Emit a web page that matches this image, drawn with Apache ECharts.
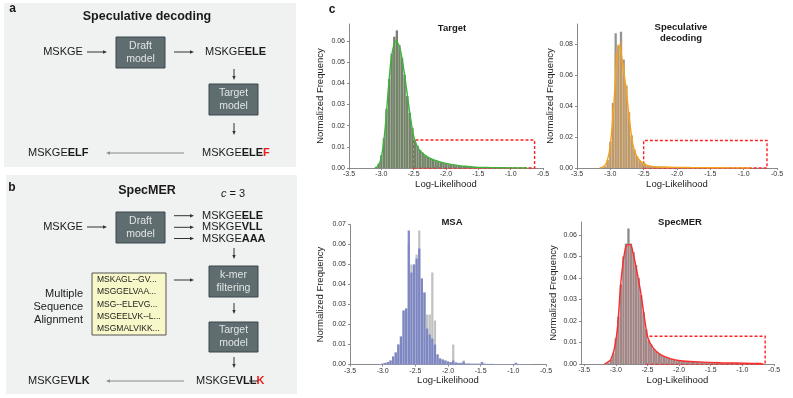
<!DOCTYPE html>
<html><head><meta charset="utf-8">
<script src="https://cdn.jsdelivr.net/npm/echarts@6/dist/echarts.min.js"></script>
<style>html,body{margin:0;padding:0;background:#fff}#c{width:793px;height:398px}</style>
</head><body><div id="c"></div>
<script>
// ---------- DATA ----------
const bins = [-3.12,-3.08,-3.04,-3.00,-2.96,-2.92,-2.88,-2.84,-2.80,-2.76,
-2.72,-2.68,-2.64,-2.60,-2.56,-2.52,-2.48,-2.44,-2.40,-2.36,
-2.32,-2.28,-2.24,-2.20,-2.16,-2.12,-2.08,-2.04,-2.00,-1.96,
-1.92,-1.88,-1.84,-1.80,-1.76,-1.72,-1.68,-1.64,-1.60,-1.56,
-1.52,-1.48,-1.44,-1.40,-1.36,-1.32,-1.28,-1.24,-1.20,-1.16,
-1.12,-1.08,-1.04,-1.00,-0.96,-0.92,-0.88,-0.84,-0.80,-0.76,
-0.72,-0.68,-0.64];

const targetGray = [0,0.0005,0.002,0.006,0.014,0.028,0.042,0.054,0.062,0.065,
0.058,0.052,0.044,0.034,0.026,0.019,0.013,0.0105,0.0085,0.0072,
0.006,0.0052,0.0045,0.004,0.0035,0.003,0.0027,0.0024,0.0021,0.0018,
0.0016,0.0014,0.0012,0.0011,0.001,0.0009,0.0008,0.0007,0.0006,0.0005,
0.0005,0.0004,0.0004,0.0003,0.0003,0.0003,0.0002,0.0002,0.0002,0.0002,
0.0002,0.0001,0.0001,0.0001,0.0001,0.0001,0.0001,0.0001,0.0001,0.0001,
0.0001,0,0];
const targetColor = [0,0.0005,0.002,0.006,0.014,0.027,0.041,0.053,0.060,0.062,
0.057,0.052,0.044,0.034,0.026,0.019,0.013,0.0105,0.0085,0.0072,
0.006,0.0052,0.0045,0.004,0.0035,0.003,0.0027,0.0024,0.0021,0.0018,
0.0016,0.0014,0.0012,0.0011,0.001,0.0009,0.0008,0.0007,0.0006,0.0005,
0.0005,0.0004,0.0004,0.0003,0.0003,0.0003,0.0002,0.0002,0.0002,0.0002,
0.0002,0.0001,0.0001,0.0001,0.0001,0.0001,0.0001,0.0001,0.0001,0.0001,
0.0001,0,0];
const targetKde = [[-3.10,0],[-3.05,0.001],[-3.00,0.005],[-2.95,0.016],[-2.90,0.034],[-2.85,0.051],[-2.80,0.059],[-2.77,0.060],[-2.73,0.058],[-2.70,0.055],[-2.65,0.046],[-2.60,0.035],[-2.55,0.024],[-2.50,0.015],[-2.45,0.0105],[-2.40,0.008],[-2.30,0.0055],[-2.20,0.004],[-2.10,0.003],[-2.00,0.0022],[-1.90,0.0016],[-1.80,0.0011],[-1.70,0.0008],[-1.60,0.0005],[-1.50,0.0003],[-1.30,0.0002],[-1.10,0.0001],[-0.90,0.00005],[-0.75,0]];

const specGray = [0.0003,0.001,0.005,0.017,0.042,0.087,0.079,0.088,0.070,0.053,
0.036,0.021,0.012,0.0075,0.005,0.0038,0.0028,0.0018,0.0013,0.001,
0.0009,0.0008,0.0007,0.0006,0.0006,0.0005,0.0005,0.0004,0.0004,0.0004,
0.0004,0.0003,0.0003,0.0003,0.0003,0.0003,0.0003,0.0003,0.0003,0.0003,
0.0003,0.0003,0.0002,0.0002,0.0002,0.0002,0.0002,0.0002,0.0002,0.0002,
0.0002,0.0002,0.0001,0.0001,0.0001,0.0001,0.0001,0.0001,0.0001,0.0001,
0.0001,0,0];
const specColor = [0.0003,0.001,0.005,0.016,0.040,0.074,0.080,0.082,0.068,0.054,
0.036,0.021,0.012,0.0075,0.005,0.0038,0.0028,0.0018,0.0013,0.001,
0.0009,0.0008,0.0007,0.0006,0.0006,0.0005,0.0005,0.0004,0.0004,0.0004,
0.0004,0.0003,0.0003,0.0003,0.0003,0.0003,0.0003,0.0003,0.0003,0.0003,
0.0003,0.0003,0.0002,0.0002,0.0002,0.0002,0.0002,0.0002,0.0002,0.0002,
0.0002,0.0002,0.0001,0.0001,0.0001,0.0001,0.0001,0.0001,0.0001,0.0001,
0.0001,0,0];
const specKde = [[-3.16,0],[-3.10,0.001],[-3.05,0.004],[-3.00,0.015],[-2.95,0.040],[-2.91,0.066],[-2.875,0.079],[-2.85,0.077],[-2.81,0.066],[-2.76,0.050],[-2.71,0.030],[-2.66,0.015],[-2.61,0.008],[-2.55,0.0045],[-2.47,0.002],[-2.35,0.0009],[-2.20,0.0006],[-2.00,0.0004],[-1.80,0.0003],[-1.50,0.0002],[-1.20,0.0001],[-0.90,0]];

const msaGray = [0,0,0.0002,0.0005,0.0008,0.0012,0.002,0.004,0.006,0.010,
0.014,0.027,0.028,0.060,0.050,0.050,0.055,0.067,0.043,0.036,
0.025,0.025,0.046,0.022,0.005,0.003,0.0025,0.002,0.0015,0.0012,
0.010,0.001,0.0008,0.0008,0.002,0.0005,0.0005,0.0004,0.0004,0.0004,
0.0004,0.0012,0.0004,0.0003,0.0003,0.0003,0.0002,0.0002,0.0002,0.0002,
0.0002,0.0002,0.0002,0.0002,0.0008,0.0002,0.0002,0.0001,0.0001,0.0001,
0.0001,0,0];
const msaColor = [0,0,0.0002,0.0005,0.0008,0.0012,0.002,0.004,0.006,0.010,
0.014,0.027,0.028,0.067,0.046,0.050,0.053,0.058,0.043,0.036,
0.018,0.015,0.013,0.010,0.005,0.003,0.0025,0.002,0.0015,0.0012,
0.002,0.001,0.0008,0.0008,0.0015,0.0005,0.0005,0.0004,0.0004,0.0004,
0.0004,0.0012,0.0004,0.0003,0.0003,0.0003,0.0002,0.0002,0.0002,0.0002,
0.0002,0.0002,0.0002,0.0002,0.0008,0.0002,0.0002,0.0001,0.0001,0.0001,
0.0001,0,0];

const specmerGray = [0.0005,0.002,0.005,0.012,0.022,0.037,0.050,0.056,0.063,0.056,
0.052,0.046,0.040,0.032,0.024,0.016,0.011,0.009,0.007,0.0058,
0.005,0.0042,0.0035,0.003,0.0027,0.0024,0.002,0.0018,0.0016,0.0015,
0.0014,0.0013,0.0012,0.0011,0.001,0.0012,0.0011,0.001,0.0009,0.0008,
0.0008,0.0007,0.0007,0.0006,0.0006,0.0005,0.0005,0.0005,0.0004,0.0004,
0.0004,0.0004,0.0003,0.0003,0.0003,0.0003,0.0002,0.0002,0.0001,0.0001,
0.0001,0,0];
const specmerColor = [0.0005,0.002,0.005,0.012,0.022,0.037,0.050,0.055,0.056,0.055,
0.052,0.046,0.040,0.032,0.024,0.016,0.011,0.009,0.007,0.0058,
0.005,0.0042,0.0035,0.003,0.0027,0.0024,0.002,0.0018,0.0016,0.0015,
0.0014,0.0013,0.0012,0.0011,0.001,0.0012,0.0011,0.001,0.0009,0.0008,
0.0008,0.0007,0.0007,0.0006,0.0006,0.0005,0.0005,0.0005,0.0004,0.0004,
0.0004,0.0004,0.0003,0.0003,0.0003,0.0003,0.0002,0.0002,0.0001,0.0001,
0.0001,0,0];
const specmerKde = [[-3.18,0],[-3.12,0.001],[-3.08,0.002],[-3.02,0.0075],[-2.97,0.018],[-2.92,0.038],[-2.86,0.052],[-2.81,0.0555],[-2.77,0.0555],[-2.73,0.052],[-2.68,0.045],[-2.61,0.034],[-2.54,0.020],[-2.49,0.012],[-2.41,0.0075],[-2.30,0.0045],[-2.14,0.0025],[-1.98,0.0015],[-1.71,0.001],[-1.34,0.0006],[-0.86,0.0003],[-0.70,0.0002]];

const xTicks = [-3.5,-3.0,-2.5,-2.0,-1.5,-1.0,-0.5];
const yTicksA = [0,0.01,0.02,0.03,0.04,0.05,0.06];
const yTicksB = [0,0.02,0.04,0.06,0.08];
const yTicksC = [0,0.01,0.02,0.03,0.04,0.05,0.06,0.07];
// red dashed boxes: [x0, x1, top]
const boxes = [[-2.5,-0.63,0.0132],[-2.5,-0.65,0.0178],null,[-2.53,-0.64,0.0129]];

// ---------- LAYOUT ----------
const FONT = 'Liberation Sans, Arial, Helvetica, sans-serif';
const grids = [
  {left:349, top:24, width:194, height:144},
  {left:577, top:24, width:200, height:144},
  {left:350, top:224.5, width:196, height:140},
  {left:581, top:222, width:193, height:142}
];
const xMins = [-3.5,-3.5,-3.5,-3.55];
const yMaxes = [0.068,0.093,0.07,0.066];
const yTickSets = [yTicksA,yTicksB,yTicksC,yTicksA];
const yNameGaps = [24,19,25,23];
const grayCols = ['#7c7c7c','#939393','#c2c2c2','#8a8a8a'];
const overCols = ['rgba(100,145,70,0.35)','rgba(235,160,60,0.5)','rgba(118,130,196,0.92)','rgba(235,120,120,0.25)'];
const lineCols = ['#3db53d','#f5a31f',null,'#ff2a2a'];
const grayData = [targetGray,specGray,msaGray,specmerGray];
const colData = [targetColor,specColor,msaColor,specmerColor];
const kdes = [targetKde,specKde,null,specmerKde];

const xAxes = [], yAxes = [], series = [];
for (let i=0;i<4;i++){
  xAxes.push({type:'value', gridIndex:i, min:xMins[i], max:-0.5,
    name:'Log-Likelihood', nameLocation:'middle', nameGap:10,
    nameTextStyle:{fontFamily:FONT,fontSize:9.5,color:'#222'},
    axisLine:{lineStyle:{color:'#8a8a8a',width:1}},
    axisTick:{length:2,lineStyle:{color:'#8a8a8a'},customValues:xTicks},
    axisLabel:{fontFamily:FONT,fontSize:7,color:'#333',margin:3,customValues:xTicks,formatter:v=>v.toFixed(1)},
    splitLine:{show:false}});
  yAxes.push({type:'value', gridIndex:i, min:0, max:yMaxes[i],
    name:'Normalized Frequency', nameLocation:'middle', nameGap:yNameGaps[i],
    nameTextStyle:{fontFamily:FONT,fontSize:9.5,color:'#222'},
    axisLine:{show:true,lineStyle:{color:'#8a8a8a',width:1}},
    axisTick:{show:true,length:2,lineStyle:{color:'#8a8a8a'},customValues:yTickSets[i]},
    axisLabel:{fontFamily:FONT,fontSize:7,color:'#333',margin:4,customValues:yTickSets[i],formatter:v=>v.toFixed(2)},
    splitLine:{show:false}});
  series.push({type:'bar', xAxisIndex:i, yAxisIndex:i, barWidth:2.3, barGap:'-100%', silent:true,
    itemStyle:{color:grayCols[i]}, data:bins.map((b,j)=>[b,grayData[i][j]])});
  series.push({type:'bar', xAxisIndex:i, yAxisIndex:i, barWidth:2.3, barGap:'-100%', silent:true,
    itemStyle:{color:overCols[i]}, data:bins.map((b,j)=>[b,colData[i][j]])});
  if (kdes[i]) {
    const ln = {type:'line', xAxisIndex:i, yAxisIndex:i, smooth:0.35, symbol:'none', silent:true,
      lineStyle:{color:lineCols[i],width:1.4}, data:kdes[i], z:5};
    if (boxes[i]) ln.markArea = {silent:true,
      itemStyle:{color:'rgba(0,0,0,0)',borderColor:'#ff2020',borderType:[3,2],borderWidth:1.4},
      data:[[{coord:[boxes[i][0],0]},{coord:[boxes[i][1],boxes[i][2]]}]]};
    series.push(ln);
  }
}

// ---------- DIAGRAM GRAPHICS ----------
const G = [];
const TXT = '#1a1a1a';
function txt(x,y,text,o){o=o||{};
  G.push({type:'text',x:x,y:y,z:10,style:Object.assign({text:text,fontFamily:FONT,fontSize:11,fill:TXT,
    align:'center',verticalAlign:'middle'},o)});}
function rich(x,y,text,o){o=o||{};
  G.push({type:'text',x:x,y:y,z:10,style:Object.assign({text:text,fontFamily:FONT,fontSize:11,fill:TXT,
    align:'left',verticalAlign:'middle',
    rich:{n:{fontFamily:FONT,fontSize:11,fill:TXT},
          b:{fontFamily:FONT,fontSize:11,fontWeight:'bold',fill:TXT},
          r:{fontFamily:FONT,fontSize:11,fontWeight:'bold',fill:'#ee1c1c'},
          i:{fontFamily:FONT,fontSize:11,fontStyle:'italic',fill:TXT}}},o)});}
function arrow(x1,y1,x2,y2,col){col=col||'#333';
  const a=Math.atan2(y2-y1,x2-x1), L=4, W=1.7;
  const bx=x2-L*Math.cos(a), by=y2-L*Math.sin(a);
  const px=-Math.sin(a)*W, py=Math.cos(a)*W;
  G.push({type:'line',z:10,shape:{x1:x1,y1:y1,x2:bx,y2:by},style:{stroke:col,lineWidth:1}});
  G.push({type:'polygon',z:10,shape:{points:[[x2,y2],[bx+px,by+py],[bx-px,by-py]]},style:{fill:col}});}
function box(x,y,w,h,l1,l2,fill){
  G.push({type:'rect',z:9,shape:{x:x,y:y,width:w,height:h},style:{fill:fill||'#5f6d71',stroke:'#3c474a',lineWidth:1}});
  txt(x+w/2,y+h/2-6.5,l1,{fontSize:10.5,fill:'#e1e5e5'});
  txt(x+w/2,y+h/2+6.5,l2,{fontSize:10.5,fill:'#e1e5e5'});}

// panel backgrounds
G.push({type:'rect',z:1,shape:{x:4,y:3,width:292,height:164},style:{fill:'#f0f1f1'}});
G.push({type:'rect',z:1,shape:{x:6,y:175,width:291,height:219},style:{fill:'#f0f1f1'}});

// panel a
txt(12.5,9,'a',{fontWeight:'bold',fontSize:12});
txt(147,17,'Speculative decoding',{fontWeight:'bold',fontSize:12.5});
txt(63,52,'MSKGE');
arrow(87,52,107,52);
box(116,37,49,31,'Draft','model');
arrow(174,52,194,52);
rich(205,52,'MSKGE{b|ELE}');
arrow(234,69,234,80);
box(209,84,49,31,'Target','model');
arrow(234,123,234,135);
rich(202,153,'MSKGE{b|ELE}{r|F}');
arrow(184,153,106,153,'#8a8a8a');
rich(28,153,'MSKGE{b|ELF}');

// panel b
txt(12,188,'b',{fontWeight:'bold',fontSize:12});
txt(147,191,'SpecMER',{fontWeight:'bold',fontSize:12.5});
rich(221,194,'{i|c} = 3');
txt(63,227,'MSKGE');
arrow(87,227,107,227);
box(116,212,49,31,'Draft','model');
arrow(174,215.7,194,215.7);
arrow(174,227.3,194,227.3);
arrow(174,238.5,194,238.5);
rich(202,215.7,'MSKGE{b|ELE}');
rich(202,227.3,'MSKGE{b|VLL}');
rich(202,239,'MSKGE{b|AAA}');
arrow(234,248,234,259);
box(209,266,49,31,'k-mer','filtering');
G.push({type:'rect',z:9,shape:{x:92,y:273,width:74,height:62},style:{fill:'#f7f7c9',stroke:'#555',lineWidth:1}});
const msaSeqs=['MSKAGL--GV...','MSGGELVAA...','MSG--ELEVG...','MSGEELVK--L...','MSGMALVIKK...'];
const msaY=[280,291.7,305,316.7,329];
msaSeqs.forEach((s,k)=>txt(97,msaY[k],s,{align:'left',fontSize:8.5}));
arrow(174,280,194,280);
txt(83,294,'Multiple',{align:'right'});
txt(83,306.7,'Sequence',{align:'right'});
txt(83,320,'Alignment',{align:'right'});
arrow(234,303,234,314);
box(209,322,49,30,'Target','model');
arrow(234,357,234,368);
rich(196,381,'MSKGE{b|VLL}{r|K}');
G.push({type:'line',z:11,shape:{x1:249,y1:381,x2:258,y2:381},style:{stroke:'#222',lineWidth:1}});
arrow(184,381,106,381,'#8a8a8a');
rich(28,381,'MSKGE{b|VLK}');

// panel c labels and titles
txt(332,10,'c',{fontWeight:'bold',fontSize:12});
txt(452,28,'Target',{fontWeight:'bold',fontSize:9.5});
txt(681,27,'Speculative',{fontWeight:'bold',fontSize:9.5});
txt(681,38.5,'decoding',{fontWeight:'bold',fontSize:9.5});
txt(452,222,'MSA',{fontWeight:'bold',fontSize:9.5});
txt(680,222,'SpecMER',{fontWeight:'bold',fontSize:9.5});

const chart = echarts.init(document.getElementById('c'),null,{renderer:'canvas'});
chart.setOption({animation:false, backgroundColor:'#ffffff',
  grid:grids, xAxis:xAxes, yAxis:yAxes, series:series, graphic:{elements:G}});
</script></body></html>
